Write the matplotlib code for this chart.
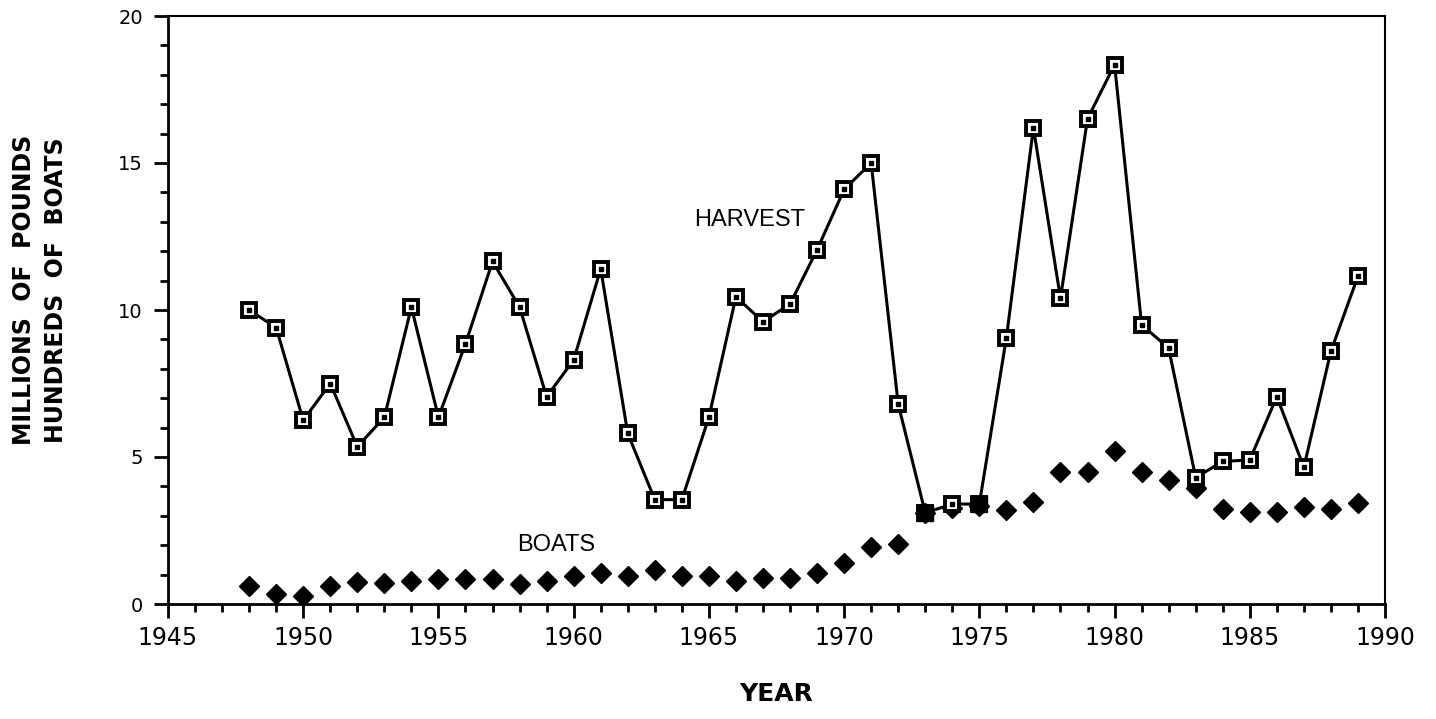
import matplotlib
matplotlib.use("Agg")
import matplotlib.pyplot as plt
import numpy as np
from matplotlib.ticker import MultipleLocator

years = list(range(1948, 1990))
harvest = [10.0, 9.4, 6.25, 7.5, 5.35, 6.35, 10.1, 6.35, 8.85, 11.65,
           10.1, 7.05, 8.3, 11.4, 5.8, 3.55, 3.55, 6.35, 10.45, 9.6,
           10.2, 12.05, 14.1, 15.0, 6.8, 3.1, 3.4, 3.4, 9.05, 16.2,
           10.4, 16.5, 18.35, 9.5, 8.7, 4.3, 4.85, 4.9, 7.05, 4.65,
           8.6, 11.15]
boats = [0.6, 0.35, 0.28, 0.6, 0.76, 0.73, 0.78, 0.85, 0.86, 0.86,
         0.68, 0.78, 0.95, 1.05, 0.95, 1.15, 0.95, 0.95, 0.77, 0.88,
         0.88, 1.05, 1.4, 1.95, 2.05, 3.1, 3.25, 3.33, 3.2, 3.46,
         4.48, 4.48, 5.2, 4.48, 4.22, 3.95, 3.24, 3.13, 3.13, 3.3,
         3.24, 3.43]
filled_years = [1973, 1975]

x_ticks = [1945, 1950, 1955, 1960, 1965, 1970, 1975, 1980, 1985, 1990]
y_ticks = [0, 5, 10, 15, 20]

plt.rcParams['font.family'] = ['DejaVu Sans']

fig = plt.figure(figsize=(14.36, 7.19), dpi=100)
ax = fig.add_axes([168/1436, 1-604/719, (1385-168)/1436, (604-16)/719])

# Boats
ax.plot(years, boats, linestyle='none', marker='D', markersize=10.5,
        color='black', zorder=3)

# Harvest line with open squares
ax.plot(years, harvest, color='black', linewidth=2.2, marker='s',
        markersize=10.5, markerfacecolor='white', markeredgecolor='black',
        markeredgewidth=2.8, zorder=4)
# inner dots
ax.plot(years, harvest, linestyle='none', marker='s', markersize=2.2,
        color='black', zorder=5)
# filled squares
fidx = [years.index(y) for y in filled_years]
ax.plot([years[i] for i in fidx], [harvest[i] for i in fidx],
        linestyle='none', marker='s', markersize=11.5, color='black', zorder=6)

ax.set_xlim(1945, 1990)
ax.set_ylim(0, 20)
ax.set_xticks(x_ticks)
ax.set_xticklabels([str(t) for t in x_ticks])
ax.set_yticks(y_ticks)
ax.set_yticklabels([str(t) for t in y_ticks])
ax.xaxis.set_minor_locator(MultipleLocator(1))
ax.yaxis.set_minor_locator(MultipleLocator(1))

ax.tick_params(axis='x', which='major', direction='out', length=10, width=2,
               labelsize=17, pad=6)
ax.tick_params(axis='x', which='minor', direction='out', length=6, width=2)
ax.tick_params(axis='y', which='major', direction='out', length=10, width=2,
               labelsize=14, pad=8)
ax.tick_params(axis='y', which='minor', direction='out', length=6, width=2)

for side in ['left', 'bottom']:
    ax.spines[side].set_linewidth(2.0)
for side in ['top', 'right']:
    ax.spines[side].set_linewidth(1.5)

ax.set_xlabel('YEAR', fontsize=18, fontweight='bold')
ax.xaxis.set_label_coords(0.5, -(682-604)/588, transform=ax.transAxes)
ax.set_ylabel('MILLIONS  OF  POUNDS\nHUNDREDS  OF  BOATS', fontsize=17,
              fontweight='bold', linespacing=1.4)
ax.yaxis.set_label_coords(-(168-68)/1217, (604-290)/588, transform=ax.transAxes)

ax.text(1966.5, 13.05, 'HARVEST', fontsize=17, ha='center', va='center',
        family=['Liberation Sans', 'DejaVu Sans'])
ax.text(1959.35, 2.0, 'BOATS', fontsize=17, ha='center', va='center',
        family=['Liberation Sans', 'DejaVu Sans'])

fig.savefig('out.png', dpi=100)
